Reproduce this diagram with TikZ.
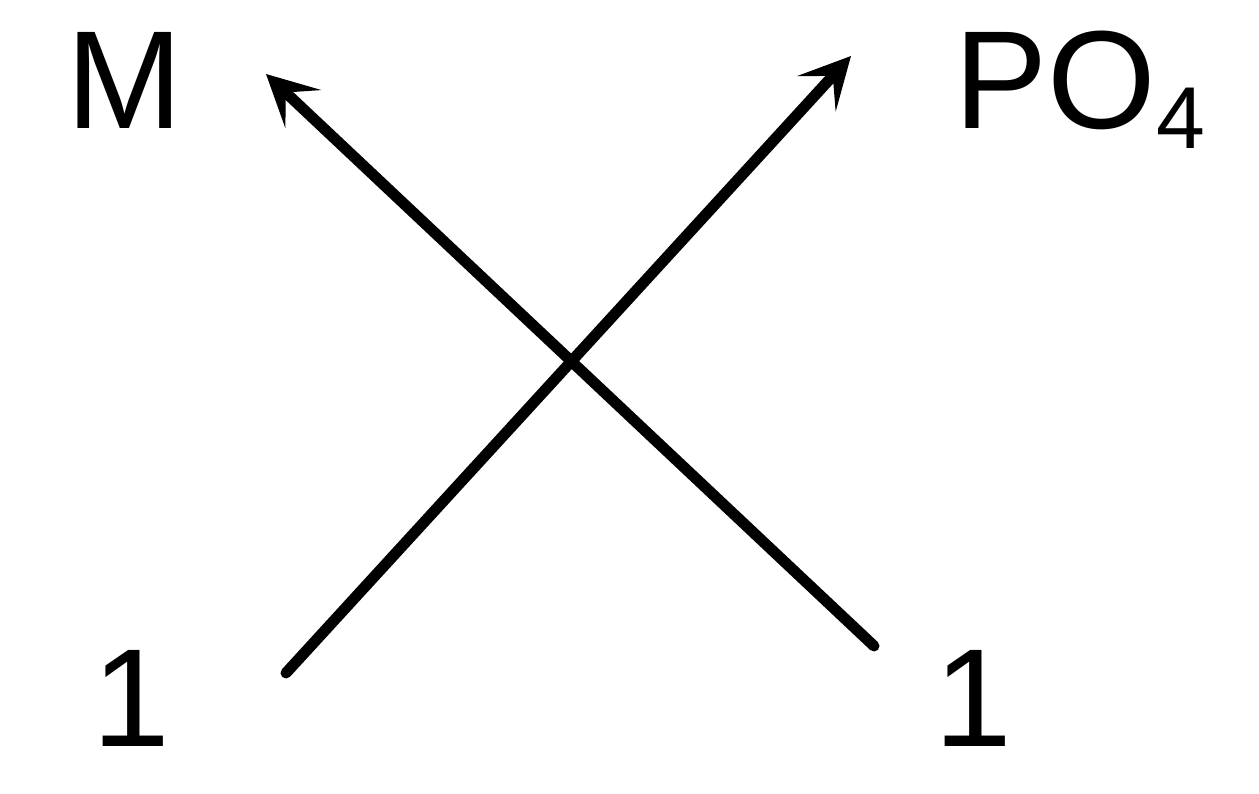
\documentclass[tikz,border=0pt]{standalone}
\usepackage{fontspec}
\setmainfont{Liberation Sans}
\usepackage{tikz}
\usetikzlibrary{arrows.meta, positioning}

\begin{document}
\begin{tikzpicture}[x=0.02cm, y=-0.02cm,
    bond/.style={line width=0.22cm, line cap=round,
      -{Stealth[length=1.02cm, width=1.04cm, inset=0.48cm]}},
    label/.style={inner sep=0pt, font=\fontsize{79.5pt}{95pt}\selectfont}]
        \useasboundingbox (0,0) rectangle (1259,794);
        \coordinate  (a) at (286,673) {};
        \coordinate  (b) at (851,56) {};
        \coordinate  (c) at (874,646) {};
        \coordinate  (d) at (266,74) {};
        \node[label, anchor=base] (m) at (125,129) {M};
        \node[label, anchor=base west] (po) at (954,129) {PO\raisebox{-0.4cm}{\fontsize{50pt}{60pt}\selectfont 4}};
        \node[label, anchor=base] (one1) at (131,746) {1};
        \node[label, anchor=base] (one2) at (973,746) {1};
        \draw[bond] (a) -- (b);
        \draw[bond] (c) -- (d);
    \end{tikzpicture}
\end{document}
